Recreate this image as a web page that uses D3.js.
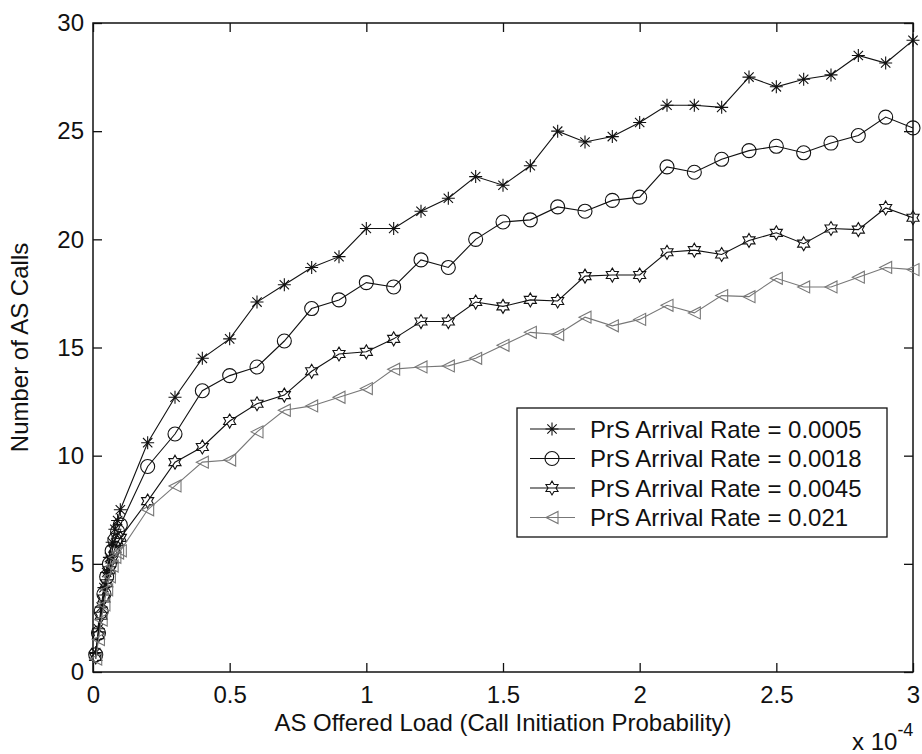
<!DOCTYPE html>
<html>
<head>
<meta charset="utf-8">
<script src="https://cdn.jsdelivr.net/npm/d3@7/dist/d3.min.js"></script>
<style>
  html, body { margin: 0; padding: 0; background: #fff; }
  svg { display: block; font-family: 'Liberation Sans', Arial, sans-serif; }
</style>
</head>
<body>
<div id="chart"></div>
<script>
(function () {
  // AS offered load (x 10^-4)
  const loadValues = [
    0.01, 0.02, 0.03, 0.04, 0.05, 0.06, 0.07, 0.08, 0.09,
    0.1, 0.2, 0.3, 0.4, 0.5, 0.6, 0.7, 0.8, 0.9, 1.0,
    1.1, 1.2, 1.3, 1.4, 1.5, 1.6, 1.7, 1.8, 1.9, 2.0,
    2.1, 2.2, 2.3, 2.4, 2.5, 2.6, 2.7, 2.8, 2.9, 3.0
  ];

  const calls0005 = [
    0.9, 2.0, 3.0, 3.9, 4.6, 5.3, 6.0, 6.6, 7.0,
    7.5, 10.6, 12.7, 14.5, 15.4, 17.1, 17.9, 18.7, 19.2, 20.5,
    20.5, 21.3, 21.9, 22.9, 22.5, 23.4, 25.0, 24.5, 24.75, 25.4,
    26.2, 26.2, 26.1, 27.5, 27.05, 27.4, 27.6, 28.5, 28.15, 29.2
  ];
  const calls0018 = [
    0.8, 1.8, 2.8, 3.6, 4.4, 5.0, 5.6, 6.1, 6.5,
    6.8, 9.5, 11.0, 13.0, 13.7, 14.1, 15.3, 16.8, 17.2, 18.0,
    17.8, 19.05, 18.7, 20.0, 20.8, 20.9, 21.5, 21.3, 21.8, 21.95,
    23.35, 23.1, 23.7, 24.1, 24.3, 24.0, 24.45, 24.8, 25.65, 25.15
  ];
  const calls0045 = [
    0.7, 1.7, 2.6, 3.4, 4.1, 4.7, 5.2, 5.7, 6.0,
    6.2, 7.9, 9.7, 10.4, 11.6, 12.4, 12.8, 13.9, 14.7, 14.8,
    15.4, 16.2, 16.2, 17.1, 16.9, 17.2, 17.15, 18.3, 18.35, 18.35,
    19.4, 19.5, 19.3, 19.95, 20.3, 19.8, 20.5, 20.45, 21.45, 21.0
  ];
  const calls021 = [
    0.6, 1.5, 2.4, 3.1, 3.8, 4.4, 4.9, 5.3, 5.5,
    5.6, 7.5, 8.6, 9.7, 9.8, 11.1, 12.1, 12.3, 12.7, 13.1,
    14.0, 14.1, 14.15, 14.5, 15.1, 15.7, 15.6, 16.4, 16.0, 16.3,
    16.95, 16.6, 17.4, 17.35, 18.2, 17.8, 17.8, 18.25, 18.7, 18.6
  ];

  const seriesLabels = [
    'PrS Arrival Rate = 0.0005',
    'PrS Arrival Rate = 0.0018',
    'PrS Arrival Rate = 0.0045',
    'PrS Arrival Rate = 0.021'
  ];

  const xTicks = [0, 0.5, 1, 1.5, 2, 2.5, 3];
  const yTicks = [0, 5, 10, 15, 20, 25, 30];

  const WIDTH = 922;
  const HEIGHT = 754;
  const MARGIN = { top: 23, right: 9, bottom: 82, left: 93 };
  const TICK = 9;
  const FONT = 24;

  // marker path generators (MATLAB style: *, o, hexagram, <)
  function asterisk(r) {
    const d = r * 0.72;
    return `M${-r},0L${r},0M0,${-r}L0,${r}M${-d},${-d}L${d},${d}M${-d},${d}L${d},${-d}`;
  }
  function circle(r) {
    return `M${r},0A${r},${r} 0 1,1 ${-r},0A${r},${r} 0 1,1 ${r},0Z`;
  }
  function hexagram(r) {
    const pts = [];
    const ri = r / Math.sqrt(3);
    for (let i = 0; i < 12; i++) {
      const a = -Math.PI / 2 + i * Math.PI / 6;
      const rr = i % 2 === 0 ? r : ri;
      pts.push([rr * Math.cos(a), rr * Math.sin(a)]);
    }
    return 'M' + pts.map(p => p[0].toFixed(2) + ',' + p[1].toFixed(2)).join('L') + 'Z';
  }
  function triLeft(r) {
    return `M${-r},0L${r},${-r}L${r},${r}Z`;
  }

  const series = [
    { values: calls0005, marker: asterisk(6.5), color: '#111' },
    { values: calls0018, marker: circle(7), color: '#111' },
    { values: calls0045, marker: hexagram(7), color: '#111' },
    { values: calls021, marker: triLeft(6), color: '#777' }
  ];

  const svg = d3.select('#chart').append('svg')
    .attr('width', WIDTH)
    .attr('height', HEIGHT);

  const x = d3.scaleLinear().domain([0, 3]).range([MARGIN.left, WIDTH - MARGIN.right]);
  const y = d3.scaleLinear().domain([0, 30]).range([HEIGHT - MARGIN.bottom, MARGIN.top]);

  const x0 = x(0), x1 = x(3), y0 = y(0), y1 = y(30);

  // Axes box with inward ticks on all four sides
  const g = svg.append('g');
  g.append('g')
    .attr('transform', `translate(0,${y0})`)
    .call(d3.axisBottom(x).tickValues(xTicks).tickSize(-TICK).tickPadding(14)
      .tickFormat(d3.format('')))
    .call(a => a.select('.domain').remove());
  g.append('g')
    .attr('transform', `translate(0,${y1})`)
    .call(d3.axisTop(x).tickValues(xTicks).tickSize(-TICK).tickFormat(''))
    .call(a => a.select('.domain').remove());
  g.append('g')
    .attr('transform', `translate(${x0},0)`)
    .call(d3.axisLeft(y).tickValues(yTicks).tickSize(-TICK).tickPadding(9))
    .call(a => a.select('.domain').remove());
  g.append('g')
    .attr('transform', `translate(${x1},0)`)
    .call(d3.axisRight(y).tickValues(yTicks).tickSize(-TICK).tickFormat(''))
    .call(a => a.select('.domain').remove());

  g.selectAll('.tick line').attr('stroke', '#111').attr('stroke-width', 1.3);
  g.selectAll('.tick text')
    .attr('fill', '#111')
    .style('font-size', FONT + 'px')
    .style('font-family', "'Liberation Sans', Arial, sans-serif");

  svg.append('rect')
    .attr('x', x0).attr('y', y1)
    .attr('width', x1 - x0).attr('height', y0 - y1)
    .attr('fill', 'none')
    .attr('stroke', '#111')
    .attr('stroke-width', 1.5);

  // Lines and markers
  const line = d3.line()
    .x((d, i) => x(loadValues[i]))
    .y(d => y(d));

  series.forEach(s => {
    svg.append('path')
      .datum(s.values)
      .attr('d', line)
      .attr('fill', 'none')
      .attr('stroke', s.color)
      .attr('stroke-width', 1.1);

    svg.selectAll(null)
      .data(s.values)
      .enter()
      .append('path')
      .attr('transform', (d, i) => `translate(${x(loadValues[i])},${y(d)})`)
      .attr('d', s.marker)
      .attr('fill', 'none')
      .attr('stroke', s.color)
      .attr('stroke-width', 1.1);
  });

  // Legend
  const legend = svg.append('g').attr('transform', 'translate(517,408)');
  legend.append('rect')
    .attr('width', 370).attr('height', 129)
    .attr('fill', '#fff')
    .attr('stroke', '#111')
    .attr('stroke-width', 1.3);

  seriesLabels.forEach((label, i) => {
    const row = legend.append('g').attr('transform', `translate(0,${21 + i * 29.5})`);
    row.append('line')
      .attr('x1', 13).attr('x2', 58)
      .attr('stroke', series[i].color)
      .attr('stroke-width', 1.1);
    row.append('path')
      .attr('transform', 'translate(35,0)')
      .attr('d', series[i].marker)
      .attr('fill', 'none')
      .attr('stroke', series[i].color)
      .attr('stroke-width', 1.1);
    row.append('text')
      .attr('x', 73).attr('y', 8.5)
      .attr('fill', '#111')
      .style('font-size', FONT + 'px')
      .text(label);
  });

  // Axis labels
  svg.append('text')
    .attr('x', (x0 + x1) / 2)
    .attr('y', 731)
    .attr('text-anchor', 'middle')
    .attr('fill', '#111')
    .style('font-size', FONT + 'px')
    .text('AS Offered Load (Call Initiation Probability)');

  svg.append('text')
    .attr('transform', `translate(28,${(y0 + y1) / 2}) rotate(-90)`)
    .attr('text-anchor', 'middle')
    .attr('fill', '#111')
    .style('font-size', FONT + 'px')
    .text('Number of AS Calls');

  const expo = svg.append('text')
    .attr('x', 852).attr('y', 750)
    .attr('fill', '#111')
    .style('font-size', FONT + 'px');
  expo.append('tspan').text('x 10');
  expo.append('tspan').attr('dy', -14).style('font-size', '18px').text('-4');
})();
</script>
</body>
</html>
